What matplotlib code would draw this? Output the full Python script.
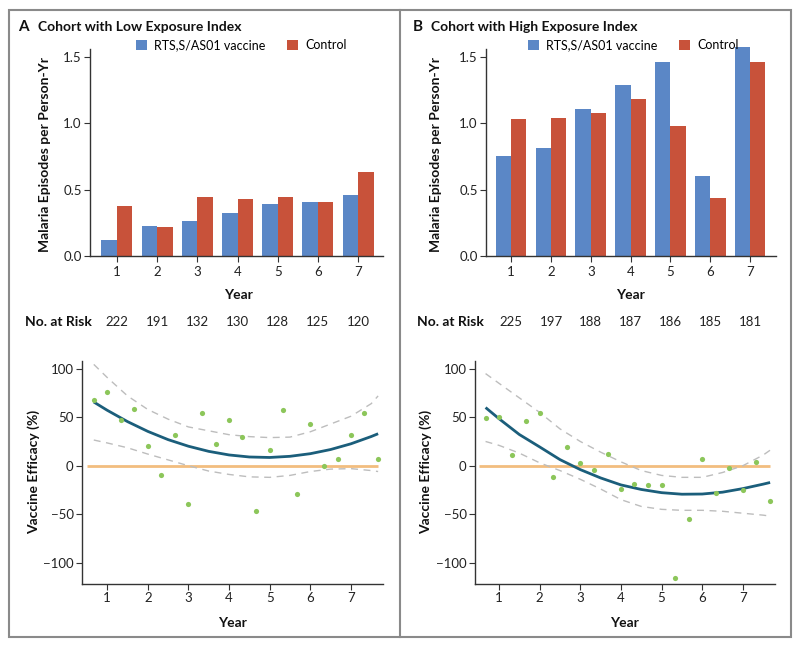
import matplotlib.pyplot as plt
import matplotlib.transforms as mtransforms
from matplotlib.patches import Rectangle
from matplotlib.lines import Line2D
import numpy as np

plt.rcParams['font.family'] = ['Lato', 'DejaVu Sans']

W, H = 800, 647

years = [1, 2, 3, 4, 5, 6, 7]

# panel A - low exposure
low_vaccine = [0.118, 0.224, 0.262, 0.325, 0.393, 0.408, 0.456]
low_control = [0.376, 0.217, 0.441, 0.426, 0.441, 0.408, 0.630]
low_risk = [222, 191, 132, 130, 128, 125, 120]

# panel B - high exposure
high_vaccine = [0.754, 0.817, 1.109, 1.288, 1.465, 0.605, 1.573]
high_control = [1.029, 1.041, 1.074, 1.182, 0.983, 0.434, 1.460]
high_risk = [225, 197, 188, 187, 186, 185, 181]

# efficacy points, every 4 months
eff_x = [0.67, 1.0, 1.33, 1.67, 2.0, 2.33, 2.67, 3.0, 3.33, 3.67, 4.0,
         4.33, 4.67, 5.0, 5.33, 5.67, 6.0, 6.33, 6.67, 7.0, 7.33, 7.67]
low_eff = [68, 76, 47, 58, 20, -10, 32, -40, 54, 22, 47,
           30, -47, 16, 57, -29, 43, 0, 7, 32, 54, 7]
high_eff = [49, 50, 11, 46, 54, -12, 19, 3, -4, 12, -24,
            -19, -20, -20, -116, -55, 7, -28, -2, -25, 4, -36]

# fitted curve and CI
fit_x = [0.67, 1.0, 1.5, 2.0, 2.5, 3.0, 3.5, 4.0, 4.5, 5.0, 5.5, 6.0, 6.5, 7.0, 7.5, 7.67]
low_fit = [65.7, 57.2, 45.5, 35.4, 26.9, 20.1, 14.8, 11.1, 9.0, 8.5, 9.7, 12.4, 16.7, 22.6, 30.1, 33.0]
low_hi = [104.5, 91, 72, 58, 48, 40, 36, 32, 30, 29, 29.5, 35, 43, 51, 64, 72]
low_lo = [26.5, 23.5, 18.5, 12, 6, 0, -5.5, -9, -11.5, -12, -10, -6, -3.5, -3, -5, -6]
high_fit = [60, 48.5, 32.2, 19.4, 6.3, -4, -12.6, -19.8, -24.5, -27.8, -29.4, -29.2, -27.3, -23.6, -19, -17.3]
high_hi = [95, 85, 70, 55, 38, 25, 14, 4, -5, -10, -12, -12, -7, 0, 11, 16]
high_lo = [25, 21, 13, 3, -5, -14, -24, -35, -42, -45, -46, -46, -47, -49, -51, -52]

BLUE = '#5b87c6'
RED = '#c8523a'
GREEN = '#8cc65a'
TEAL = '#1b5e7b'
ORANGE = '#f2bd7f'
GREY = '#bdbdbd'
INK = '#111111'


def rect(x0, x1, ytop, ybot):
    # pixel box -> figure fraction
    return [x0 / W, 1 - ybot / H, (x1 - x0) / W, (ybot - ytop) / H]


def fxy(x, y):
    return x / W, 1 - y / H


fig = plt.figure(figsize=(8, 6.47), dpi=100)

# outer frame and divider
fig.add_artist(Rectangle(fxy(9, 637), 782 / W, 627 / H, fill=False,
                         edgecolor='#8a8a8a', lw=1.5, transform=fig.transFigure))
fig.add_artist(Line2D([400 / W, 400 / W], [1 - 10 / H, 1 - 637 / H],
                      color='#8a8a8a', lw=1.5, transform=fig.transFigure))


def style(ax):
    for s in ['top', 'right']:
        ax.spines[s].set_visible(False)
    for s in ['left', 'bottom']:
        ax.spines[s].set_color('#333333')
        ax.spines[s].set_linewidth(1.0)
    ax.tick_params(labelsize=9.5, length=4, width=0.8, color='#333333',
                   labelcolor='#222222', pad=2)


def bar_panel(box, xlim, vac, ctl, risk, letter, title, lx, ylab_x, letter_x, title_x,
              year_x, risk_x):
    ax = fig.add_axes(box)
    w = 0.385
    x = np.array(years)
    ax.bar(x - w / 2, vac, w, color=BLUE, label='RTS,S/AS01 vaccine')
    ax.bar(x + w / 2, ctl, w, color=RED, label='Control')
    ax.set_xlim(*xlim)
    ax.set_ylim(0, 1.6)
    ax.spines['left'].set_bounds(0, 1.56)
    ax.set_yticks([0, 0.5, 1.0, 1.5])
    ax.set_yticklabels(['0.0', '0.5', '1.0', '1.5'])
    ax.set_xticks(years)
    style(ax)
    ax.tick_params(axis='x', pad=3)
    ax.legend(loc='center left', bbox_to_anchor=(lx / W, 1 - 45 / H), bbox_transform=fig.transFigure,
              ncol=2, frameon=False, fontsize=9, handlelength=0.9, handleheight=0.9,
              handletextpad=0.55, columnspacing=1.7, borderaxespad=0, borderpad=0)
    fig.text(*fxy(letter_x, 27), letter, fontsize=11, fontweight='bold', va='center', color=INK)
    fig.text(*fxy(title_x, 27), title, fontsize=10, fontweight='bold', va='center', color=INK)
    fig.text(*fxy(ylab_x, 155), 'Malaria Episodes per Person-Yr', rotation=90,
             fontsize=10, fontweight='bold', ha='center', va='center', color=INK)
    fig.text(*fxy(year_x, 295), 'Year', fontsize=10, fontweight='bold', ha='center', va='center', color=INK)
    fig.text(*fxy(risk_x, 322), 'No. at Risk', fontsize=10, fontweight='bold', ha='left', va='center', color=INK)
    tr = mtransforms.blended_transform_factory(ax.transData, fig.transFigure)
    for yr, n in zip(years, risk):
        ax.text(yr, 1 - 322 / H, str(n), transform=tr, fontsize=9.5,
                ha='center', va='center', color='#222222')
    return ax


def eff_panel(box, xlim, pts, fit, hi, lo, ylab_x, year_x):
    ax = fig.add_axes(box)
    ax.hlines(0, 0.5, 7.67, color=ORANGE, lw=2, zorder=1)
    ax.plot(fit_x, hi, color=GREY, lw=1, ls=(0, (5, 4)), zorder=2)
    ax.plot(fit_x, lo, color=GREY, lw=1, ls=(0, (5, 4)), zorder=2)
    ax.plot(fit_x, fit, color=TEAL, lw=2, zorder=3, solid_capstyle='butt')
    ax.scatter(eff_x, pts, s=14, color=GREEN, zorder=4, linewidths=0)
    ax.set_xlim(*xlim)
    ax.set_ylim(-122, 108)
    ax.set_yticks([-100, -50, 0, 50, 100])
    ax.set_yticklabels(['\u2212100', '\u221250', '0', '50', '100'])
    ax.set_xticks(years)
    style(ax)
    fig.text(*fxy(ylab_x, 472), 'Vaccine Efficacy (%)', rotation=90,
             fontsize=10, fontweight='bold', ha='center', va='center', color=INK)
    fig.text(*fxy(year_x, 623), 'Year', fontsize=10, fontweight='bold', ha='center', va='center', color=INK)
    return ax


bar_panel(rect(90, 383, 43.7, 256), (0.33, 7.62), low_vaccine, low_control, low_risk,
          'A', 'Cohort with Low Exposure Index', 136, 45, 18, 38, 238, 25)
bar_panel(rect(486, 776, 43.7, 256), (0.37, 7.65), high_vaccine, high_control, high_risk,
          'B', 'Cohort with High Exposure Index', 528, 436, 413, 431, 630, 417)

eff_panel(rect(82, 383, 361, 584), (0.38, 7.79), low_eff, low_fit, low_hi, low_lo, 34, 232)
eff_panel(rect(475, 775, 361, 584), (0.41, 7.79), high_eff, high_fit, high_hi, high_lo, 426, 624)

fig.savefig('out.png', dpi=100)
